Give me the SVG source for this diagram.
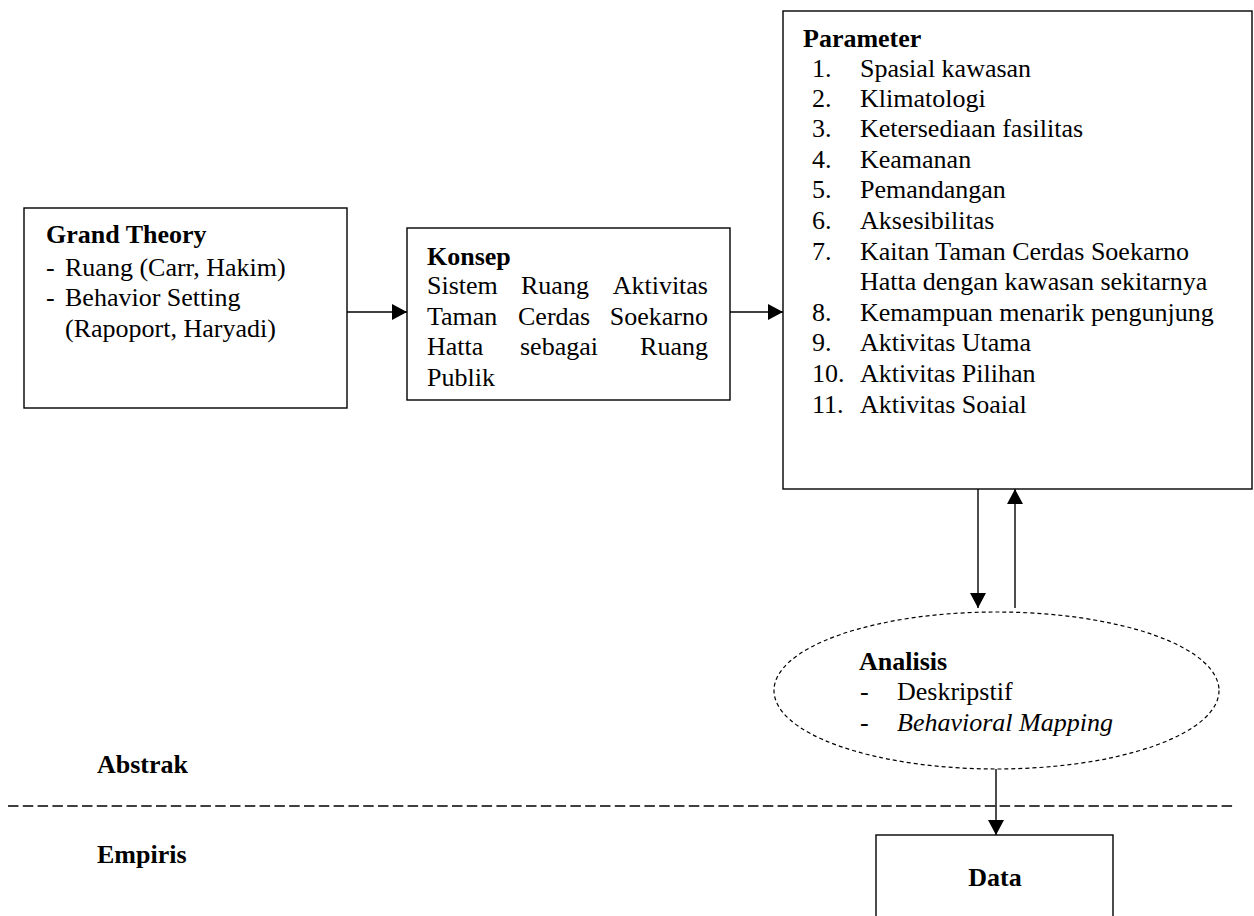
<svg xmlns="http://www.w3.org/2000/svg" width="1254" height="916" viewBox="0 0 1254 916">
  <style>
    text { font-family: 'Liberation Serif', 'Tinos', 'DejaVu Serif', serif; font-size: 26px; fill: #000; }
    .b { font-weight: bold; }
    .i { font-style: italic; }
    .box { fill: #fff; stroke: #000; stroke-width: 1.4; }
    .conn { stroke: #000; stroke-width: 1.4; fill: none; }
  </style>
  <defs>
    <marker id="arrow" markerWidth="15" markerHeight="16" refX="15" refY="8" orient="auto" markerUnits="userSpaceOnUse">
      <path d="M0,0 L15,8 L0,16 Z" fill="#000"/>
    </marker>
  </defs>

  <rect width="1254" height="916" fill="#fff"/>

  <g font-family="'Liberation Serif', 'DejaVu Serif', serif">
  <!-- Grand Theory -->
  <g id="grand-theory">
    <rect class="box" x="24" y="208" width="323" height="200"/>
    <text x="46" y="243" class="b">Grand Theory</text>
    <text x="46" y="276">-</text>
    <text x="65" y="276">Ruang (Carr, Hakim)</text>
    <text x="46" y="306">-</text>
    <text x="65" y="306">Behavior Setting</text>
    <text x="65" y="337">(Rapoport, Haryadi)</text>
  </g>

  <!-- Konsep -->
  <g id="konsep">
    <rect class="box" x="407" y="228" width="323" height="172"/>
    <text x="427" y="265" class="b">Konsep</text>
    <text x="427" y="294">Sistem</text>
    <text x="521" y="294">Ruang</text>
    <text x="708" y="294" text-anchor="end">Aktivitas</text>
    <text x="427" y="325">Taman</text>
    <text x="518" y="325">Cerdas</text>
    <text x="708" y="325" text-anchor="end">Soekarno</text>
    <text x="427" y="355">Hatta</text>
    <text x="520" y="355">sebagai</text>
    <text x="708" y="355" text-anchor="end">Ruang</text>
    <text x="427" y="386">Publik</text>
  </g>

  <!-- Parameter -->
  <g id="parameter">
    <rect class="box" x="783" y="11" width="469" height="478"/>
    <text x="803" y="47" class="b">Parameter</text>
    <text x="812" y="77">1.</text><text x="860" y="77">Spasial kawasan</text>
    <text x="812" y="107">2.</text><text x="860" y="107">Klimatologi</text>
    <text x="812" y="137">3.</text><text x="860" y="137">Ketersediaan fasilitas</text>
    <text x="812" y="168">4.</text><text x="860" y="168">Keamanan</text>
    <text x="812" y="198">5.</text><text x="860" y="198">Pemandangan</text>
    <text x="812" y="229">6.</text><text x="860" y="229">Aksesibilitas</text>
    <text x="812" y="260">7.</text><text x="860" y="260">Kaitan Taman Cerdas Soekarno</text>
    <text x="860" y="290">Hatta dengan kawasan sekitarnya</text>
    <text x="812" y="321">8.</text><text x="860" y="321">Kemampuan menarik pengunjung</text>
    <text x="812" y="351">9.</text><text x="860" y="351">Aktivitas Utama</text>
    <text x="812" y="382">10.</text><text x="860" y="382">Aktivitas Pilihan</text>
    <text x="812" y="413">11.</text><text x="860" y="413">Aktivitas Soaial</text>
  </g>

  <!-- Analisis -->
  <g id="analisis">
    <ellipse cx="996.5" cy="690.5" rx="222.5" ry="78.5" fill="#fff" stroke="#000" stroke-width="1.2" stroke-dasharray="4 3"/>
    <text x="859" y="670" class="b">Analisis</text>
    <text x="860" y="700">-</text>
    <text x="897" y="700">Deskripstif</text>
    <text x="860" y="731">-</text>
    <text x="897" y="731" class="i">Behavioral Mapping</text>
  </g>

  <!-- Data -->
  <g id="data">
    <rect class="box" x="876" y="835" width="237" height="100"/>
    <text x="995" y="886" class="b" text-anchor="middle">Data</text>
  </g>

  <!-- Level labels and divider -->
  <g id="levels">
    <line x1="8" y1="806" x2="1236" y2="806" stroke="#000" stroke-width="1.4" stroke-dasharray="10.5 4.3"/>
    <text x="97" y="773" class="b">Abstrak</text>
    <text x="97" y="863" class="b">Empiris</text>
  </g>
  </g>

  <!-- Connectors -->
  <g id="connectors">
    <line class="conn" x1="347" y1="312" x2="407" y2="312" marker-end="url(#arrow)"/>
    <line class="conn" x1="730" y1="312" x2="783" y2="312" marker-end="url(#arrow)"/>
    <line class="conn" x1="978" y1="489" x2="978" y2="608" marker-end="url(#arrow)"/>
    <line class="conn" x1="1015" y1="608" x2="1015" y2="489" marker-end="url(#arrow)"/>
    <line class="conn" x1="996" y1="769" x2="996" y2="835" marker-end="url(#arrow)"/>
  </g>
</svg>
